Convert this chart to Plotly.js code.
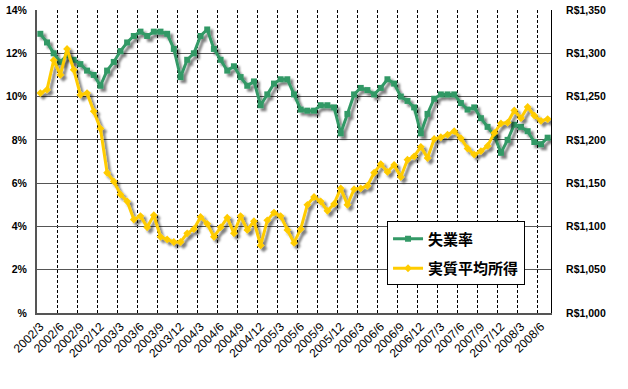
<!DOCTYPE html>
<html>
<head>
<meta charset="utf-8">
<script src="https://cdn.plot.ly/plotly-3.0.1.min.js"></script>
<style>
html,body{margin:0;padding:0;background:#fff;}
#chart{width:628px;height:389px;}
.scatterlayer .trace{filter:url(#shadow);}
</style>
</head>
<body>
<svg width="0" height="0" style="position:absolute">
  <defs>
    <filter id="shadow" x="-10%" y="-10%" width="130%" height="130%">
      <feDropShadow dx="3" dy="3" stdDeviation="1.2" flood-color="#000" flood-opacity="0.5"/>
    </filter>
  </defs>
</svg>
<div id="chart"></div>
<script>
const months = [
 '2002/3','2002/4','2002/5','2002/6','2002/7','2002/8','2002/9','2002/10','2002/11','2002/12',
 '2003/1','2003/2','2003/3','2003/4','2003/5','2003/6','2003/7','2003/8','2003/9','2003/10','2003/11','2003/12',
 '2004/1','2004/2','2004/3','2004/4','2004/5','2004/6','2004/7','2004/8','2004/9','2004/10','2004/11','2004/12',
 '2005/1','2005/2','2005/3','2005/4','2005/5','2005/6','2005/7','2005/8','2005/9','2005/10','2005/11','2005/12',
 '2006/1','2006/2','2006/3','2006/4','2006/5','2006/6','2006/7','2006/8','2006/9','2006/10','2006/11','2006/12',
 '2007/1','2007/2','2007/3','2007/4','2007/5','2007/6','2007/7','2007/8','2007/9','2007/10','2007/11','2007/12',
 '2008/1','2008/2','2008/3','2008/4','2008/5','2008/6','2008/7'
];
const unemployment = [
 12.9,12.5,12.0,11.6,11.9,11.7,11.5,11.2,11.0,10.5,
 11.2,11.6,12.1,12.5,12.8,13.0,12.8,13.0,13.0,12.9,
 12.2,10.9,11.7,12.0,12.8,13.1,12.2,11.7,11.2,11.4,
 10.9,10.5,10.7,9.6,10.1,10.6,10.8,10.8,10.1,9.4,
 9.35,9.35,9.6,9.6,9.5,8.3,9.2,10.1,10.4,10.3,
 10.1,10.4,10.8,10.6,10.0,9.8,9.5,8.3,9.2,9.9,
 10.1,10.1,10.1,9.7,9.4,9.5,9.0,8.6,8.2,7.4,
 8.0,8.7,8.6,8.4,7.9,7.8,8.1
];
const income = [
 1254,1258,1292,1275,1305,1281,1252,1254,1233,1213,
 1162,1152,1137,1129,1108,1112,1099,1113,1088,1085,
 1082,1082,1092,1097,1111,1103,1088,1099,1110,1092,
 1112,1096,1106,1078,1107,1116,1112,1096,1081,1097,
 1125,1134,1129,1118,1126,1144,1125,1143,1144,1147,
 1162,1172,1163,1171,1157,1177,1181,1192,1179,1201,
 1203,1206,1210,1202,1190,1183,1187,1193,1208,1219,
 1220,1234,1225,1238,1228,1222,1224
];
const leftTicks = [0,2,4,6,8,10,12,14];
const leftLabels = ['%','2%','4%','6%','8%','10%','12%','14%'];
const rightTicks = [1000,1050,1100,1150,1200,1250,1300,1350];
const rightLabels = ['R$1,000','R$1,050','R$1,100','R$1,150','R$1,200','R$1,250','R$1,300','R$1,350'];
const seriesNames = ['失業率','実質平均所得'];

const tickFontBold = {family:'Liberation Sans, Arial, sans-serif', size:10.5, color:'#000', weight:'bold'};

const traces = [
 {x:months, y:unemployment, name:seriesNames[0], type:'scatter', mode:'lines+markers',
  line:{color:'#339966', width:3}, marker:{symbol:'square', size:6, color:'#339966'},
  yaxis:'y', legendgroup:'a'},
 {x:months, y:income, name:seriesNames[1], type:'scatter', mode:'lines+markers',
  line:{color:'#FFCC00', width:3}, marker:{symbol:'diamond', size:6, color:'#FFCC00'},
  yaxis:'y2', legendgroup:'b'}
];

const layout = {
 width:628, height:389,
 margin:{l:37, r:77, t:10, b:76},
 paper_bgcolor:'#fff', plot_bgcolor:'#fff',
 showlegend:true,
 legend:{x:0.681, y:0.302, xanchor:'left', yanchor:'top', bgcolor:'#fff',
   bordercolor:'#000', borderwidth:1, traceorder:'grouped', tracegroupgap:7,
   font:{family:'Noto Sans CJK JP, sans-serif', size:15, color:'#000', weight:'bold'}},
 xaxis:{type:'category', tickmode:'linear', tick0:0, dtick:3, tickson:'boundaries',
   tickangle:-45, showgrid:true, gridcolor:'#000', gridwidth:1, griddash:'3px,2px',
   showline:true, linecolor:'#555', linewidth:2, zeroline:false,
   ticks:'outside', ticklen:11, tickcolor:'rgba(0,0,0,0)',
   tickfont:{family:'Liberation Sans, Arial, sans-serif', size:12, color:'#000'},
   range:[-0.5, 76.5], fixedrange:true},
 yaxis:{range:[0,14], tickmode:'array', tickvals:leftTicks, ticktext:leftLabels,
   showgrid:true, gridcolor:'#555', gridwidth:1, zeroline:false,
   showline:true, linecolor:'#555', linewidth:2,
   ticks:'outside', ticklen:6, tickcolor:'rgba(0,0,0,0)', tickfont:tickFontBold},
 yaxis2:{range:[1000,1350], overlaying:'y', side:'right', tickmode:'array',
   tickvals:rightTicks, ticktext:rightLabels, showgrid:false, zeroline:false,
   showline:true, linecolor:'#000', linewidth:1,
   ticks:'outside', ticklen:12, tickcolor:'rgba(0,0,0,0)', tickfont:tickFontBold}
};

Plotly.newPlot('chart', traces, layout, {displayModeBar:false, staticPlot:true});
</script>
</body>
</html>
